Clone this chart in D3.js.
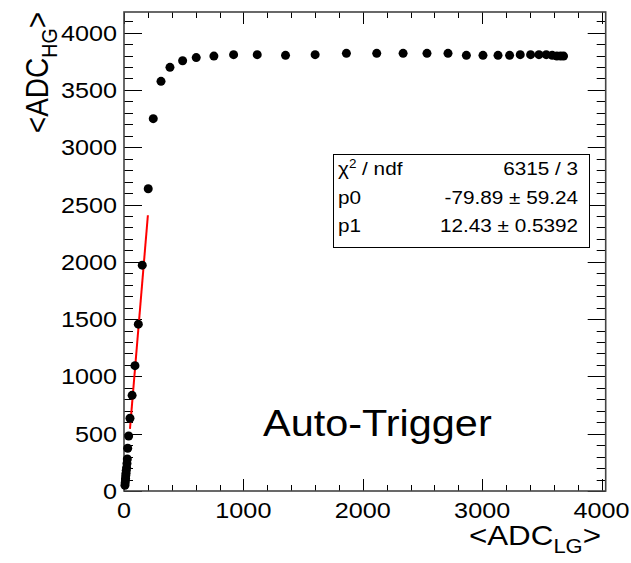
<!DOCTYPE html>
<html><head><meta charset="utf-8">
<script src="https://cdn.jsdelivr.net/npm/d3@7"></script>
<style>html,body{margin:0;padding:0;background:#fff;} svg{display:block;}</style>
</head><body>
<svg id="c" width="631" height="563"></svg>
<script>
// ---- data ----
const adcLG = [8, 10, 12, 13, 15, 17, 19, 22, 25, 28, 31, 39, 50, 68, 92, 120, 153, 203, 245, 310, 385, 491, 605, 753, 918, 1116, 1353, 1601, 1863, 2117, 2338, 2538, 2714, 2868, 3007, 3133, 3230, 3319, 3406, 3476, 3537, 3587, 3626, 3657, 3682];
const adcHG = [50, 72, 95, 111, 135, 155, 180, 204, 240, 279, 373, 480, 635, 835, 1094, 1456, 1971, 2638, 3249, 3575, 3697, 3755, 3782, 3795, 3808, 3808, 3802, 3808, 3819, 3819, 3819, 3819, 3819, 3802, 3802, 3802, 3802, 3808, 3808, 3808, 3808, 3802, 3795, 3795, 3795];
const fitP0 = -79.89, fitP1 = 12.43;
const fitRange = [50, 200];
const xTicks = [0, 1000, 2000, 3000, 4000];
const yTicks = [0, 500, 1000, 1500, 2000, 2500, 3000, 3500, 4000];
const statRows = [["χ² / ndf", "6315 / 3"], ["p0", "-79.89 ± 59.24"], ["p1", "12.43 ± 0.5392"]];
const label = "Auto-Trigger";

// ---- layout ----
const L = 124, R = 605.7, T = 12, B = 491;
const SX = 1.12; // horizontal stretch of text in the reference
const font = "'Liberation Sans', Arial, Helvetica, sans-serif";
const svg = d3.select("#c");
const x = d3.scaleLinear().domain([0, 4035]).range([L, R]);
const y = d3.scaleLinear().domain([0, 4180]).range([B, T]);

function stext(g, tx, ty, txt, size, anchor) {
  return g.append("text").attr("transform", `translate(${tx},${ty}) scale(${SX},1)`)
    .attr("text-anchor", anchor || "start").attr("font-family", font)
    .attr("font-size", size).attr("fill", "#000").text(txt);
}

// ticks (ROOT style, inside the frame, mirrored)
const tg = svg.append("g").attr("stroke", "#000").attr("stroke-width", 1);
const xMinor = d3.range(0, 4001, 200);
xMinor.forEach(v => {
  const major = v % 1000 === 0;
  const len = major ? 12 : 6;
  const px = Math.round(x(v)) + 0.5;
  tg.append("line").attr("x1", px).attr("x2", px).attr("y1", B).attr("y2", B - len);
  tg.append("line").attr("x1", px).attr("x2", px).attr("y1", T).attr("y2", T + len);
});
const yMinor = d3.range(0, 4101, 100);
yMinor.forEach(v => {
  const major = v % 500 === 0;
  const len = major ? 18 : 9;
  const py = Math.round(y(v)) + 0.5;
  tg.append("line").attr("x1", L).attr("x2", L + len).attr("y1", py).attr("y2", py);
  tg.append("line").attr("x1", R).attr("x2", R - len).attr("y1", py).attr("y2", py);
});

// frame
svg.append("rect").attr("x", L).attr("y", T).attr("width", R - L).attr("height", B - T)
  .attr("fill", "none").attr("stroke", "#444").attr("stroke-width", 1.6);

// tick labels
const lg = svg.append("g");
xTicks.forEach(v => stext(lg, x(v), 518, String(v), 22.5, "middle"));
yTicks.forEach(v => stext(lg, 117, y(v) + 8, String(v), 22.5, "end"));

// fit line
svg.append("line")
  .attr("x1", x(fitRange[0])).attr("y1", y(fitP0 + fitP1 * fitRange[0]))
  .attr("x2", x(fitRange[1])).attr("y2", y(fitP0 + fitP1 * fitRange[1]))
  .attr("stroke", "#ff0000").attr("stroke-width", 2);

// markers
svg.append("g").selectAll("circle").data(adcLG.map((v, i) => [v, adcHG[i]])).join("circle")
  .attr("cx", d => x(d[0])).attr("cy", d => y(d[1])).attr("r", 4.5).attr("fill", "#000");

// stats box
const sb = svg.append("g");
sb.append("rect").attr("x", 333.5).attr("y", 154.5).attr("width", 256).attr("height", 93)
  .attr("fill", "#fff").attr("stroke", "#000").attr("stroke-width", 1);
const base = [175, 203.5, 232];
statRows.forEach((r, i) => {
  if (i === 0) {
    const t = sb.append("text").attr("transform", `translate(338,${base[i]}) scale(${SX},1)`)
      .attr("font-family", font).attr("font-size", 18.5);
    t.append("tspan").text("χ");
    t.append("tspan").attr("font-size", 12).attr("dy", -7).text("2");
    t.append("tspan").attr("dy", 7).text(" / ndf");
  } else {
    stext(sb, 338, base[i], r[0], 18.5, "start");
  }
  stext(sb, 578, base[i], r[1], 18.5, "end");
});

// annotation
stext(svg, 263, 436, label, 37, "start");

// axis titles
const xt = svg.append("text").attr("transform", `translate(601,545) scale(${SX},1)`)
  .attr("text-anchor", "end").attr("font-family", font).attr("font-size", 28);
xt.append("tspan").text("<ADC");
xt.append("tspan").attr("font-size", 19.6).attr("dy", 8).text("LG");
xt.append("tspan").attr("dy", -8).text(">");

const yt = svg.append("text").attr("transform", `translate(48,12) scale(${SX},1) rotate(-90)`)
  .attr("text-anchor", "end").attr("font-family", font).attr("font-size", 28);
yt.append("tspan").text("<ADC");
yt.append("tspan").attr("font-size", 19.6).attr("dy", 8).text("HG");
yt.append("tspan").attr("dy", -8).text(">");
</script>
</body></html>
